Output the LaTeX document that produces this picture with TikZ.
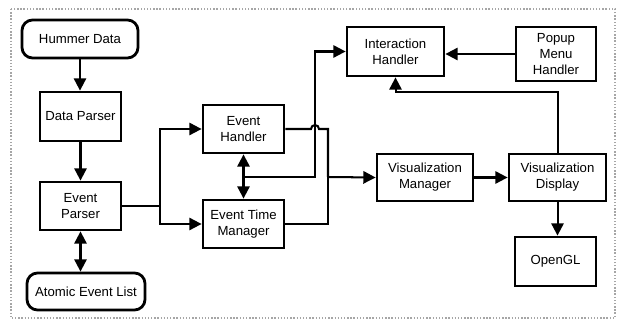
\documentclass[tikz,border=0pt]{standalone}
\usepackage{fontspec}
\setmainfont{Liberation Sans}
\usetikzlibrary{arrows.meta, positioning}

\begin{document}
\begin{tikzpicture}[x=0.02cm, y=-0.02cm,
    box/.style={draw, line width=1.6pt, align=center, inner sep=1pt,
        font=\fontsize{7.5}{9}\selectfont},
    roundbox/.style={box, rounded corners=6pt},
    arr/.style={line width=1.15pt, -{Triangle[length=7pt,width=7pt]}},
    biarr/.style={line width=1.15pt, {Triangle[length=7pt,width=7pt]}-{Triangle[length=7pt,width=7pt]}},
    wire/.style={line width=1.15pt}]
\useasboundingbox (0,0) rectangle (617,323);
\draw [densely dotted, gray!70, line width=0.8pt] (11,9) rectangle (615,318);
% left column
\node [roundbox, minimum width=116*0.02cm, minimum height=38*0.02cm] (hummer) at (80,39) {Hummer Data};
\node [box, minimum width=81*0.02cm, minimum height=49*0.02cm] (dataparser) at (80.5,116.5) {Data Parser};
\node [box, minimum width=81*0.02cm, minimum height=48*0.02cm] (eventparser) at (80.5,206) {Event\\Parser};
\node [roundbox, minimum width=118*0.02cm, minimum height=37*0.02cm] (atomic) at (86,291.5) {Atomic Event List};
% middle
\node [box, minimum width=81*0.02cm, minimum height=48*0.02cm] (eventhandler) at (243.5,129) {Event\\Handler};
\node [box, minimum width=81*0.02cm, minimum height=48*0.02cm] (timemanager) at (243.5,224) {Event Time\\Manager};
\node [box, minimum width=97*0.02cm, minimum height=49*0.02cm] (interaction) at (395.5,51.5) {Interaction\\Handler};
\node [box, minimum width=96*0.02cm, minimum height=47*0.02cm] (vismanager) at (425,177.5) {Visualization\\Manager};
% right column
\node [box, minimum width=80*0.02cm, minimum height=54*0.02cm] (popup) at (556,54) {Popup\\Menu\\Handler};
\node [box, minimum width=97*0.02cm, minimum height=47*0.02cm] (visdisplay) at (557.5,177.5) {Visualization\\Display};
\node [box, minimum width=81*0.02cm, minimum height=49*0.02cm] (opengl) at (555.5,261.5) {OpenGL};
\coordinate (split) at (160,206);
\coordinate (etmid) at (243.5,177);
\coordinate (merge) at (328,177);
% connectors
\draw [arr] (hummer.south) -- (hummer.south |- dataparser.north);
\draw [arr] (dataparser) -- (eventparser);
\draw [biarr] (eventparser.south) -- (eventparser.south |- atomic.north);
\draw [wire] (eventparser.east) -- (split);
\draw [arr] (split) |- (eventhandler.west);
\draw [arr] (split) |- (timemanager.west);
\draw [biarr] (eventhandler) -- (timemanager);
\draw [arr] (etmid) -- (315,177) |- (interaction.west);
\draw [wire] (eventhandler.east) -- (311,129) arc (180:360:4) -- (328,129) -- (merge);
\draw [wire] (timemanager.east) -| (merge);
\draw [arr] (merge) -- (vismanager.west);
\draw [arr] (vismanager) -- (visdisplay);
\draw [arr] (visdisplay.north) -- ++(0,-61) -| (interaction.south);
\draw [arr] (popup.west) -- (popup.west -| interaction.east);
\draw [arr] (visdisplay.south) -- (visdisplay.south |- opengl.north);
\end{tikzpicture}
\end{document}
